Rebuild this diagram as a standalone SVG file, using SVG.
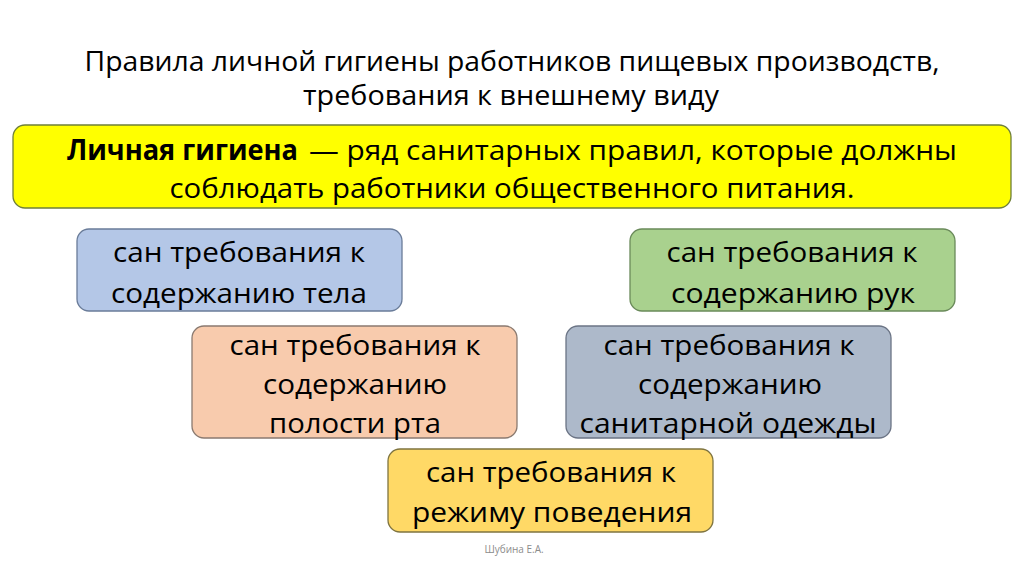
<svg xmlns="http://www.w3.org/2000/svg" width="1024" height="574" viewBox="0 0 1024 574">
<style>
.t{font-family:"Open Sans","Liberation Sans",sans-serif;fill:#000;text-anchor:middle}
.title{font-size:27px}
.box{stroke-width:1.3}
.bt{font-size:27px}
.ft{font-family:"Open Sans","Liberation Sans",sans-serif;font-size:10px;fill:#8c8c8c;text-anchor:middle}
</style>
<rect width="1024" height="574" fill="#fff"/>
<g id="title">
<text class="t title" x="512" y="71" textLength="855" lengthAdjust="spacingAndGlyphs">Правила личной гигиены работников пищевых производств,</text>
<text class="t title" x="511" y="105" textLength="416" lengthAdjust="spacingAndGlyphs">требования к внешнему виду</text>
</g>
<g id="definition">
<rect class="box" x="13" y="125" width="998" height="83" rx="12" fill="#ffff00" stroke="#6f7f3a"/>
<text class="t" style="font-size:28px;text-anchor:start" x="67" y="160"><tspan font-weight="bold" textLength="231" lengthAdjust="spacingAndGlyphs">Личная гигиена</tspan><tspan x="309" textLength="648" lengthAdjust="spacingAndGlyphs">— ряд санитарных правил, которые должны</tspan></text>
<text class="t" style="font-size:28px" x="512" y="198" textLength="685" lengthAdjust="spacingAndGlyphs">соблюдать работники общественного питания.</text>
</g>
<g id="body">
<rect class="box" x="77" y="229" width="325" height="82" rx="12" fill="#b4c7e7" stroke="#6a7c99"/>
<text class="t bt" x="239" y="262" textLength="252" lengthAdjust="spacingAndGlyphs">сан требования к</text>
<text class="t bt" x="239" y="303" textLength="256" lengthAdjust="spacingAndGlyphs">содержанию тела</text>
</g>
<g id="hands">
<rect class="box" x="630" y="229" width="325" height="82" rx="12" fill="#a9d18e" stroke="#6a8a5a"/>
<text class="t bt" x="792" y="262" textLength="251" lengthAdjust="spacingAndGlyphs">сан требования к</text>
<text class="t bt" x="793" y="303" textLength="244" lengthAdjust="spacingAndGlyphs">содержанию рук</text>
</g>
<g id="mouth">
<rect class="box" x="192" y="326" width="325" height="112" rx="12" fill="#f8cbad" stroke="#8a7a70"/>
<text class="t bt" x="355" y="355" textLength="251" lengthAdjust="spacingAndGlyphs">сан требования к</text>
<text class="t bt" x="355" y="394" textLength="184" lengthAdjust="spacingAndGlyphs">содержанию</text>
<text class="t bt" x="355" y="433" textLength="172" lengthAdjust="spacingAndGlyphs">полости рта</text>
</g>
<g id="clothes">
<rect class="box" x="566" y="326" width="325" height="112" rx="12" fill="#adb9ca" stroke="#6b7485"/>
<text class="t bt" x="729" y="355" textLength="251" lengthAdjust="spacingAndGlyphs">сан требования к</text>
<text class="t bt" x="730" y="394" textLength="184" lengthAdjust="spacingAndGlyphs">содержанию</text>
<text class="t bt" x="728" y="433" textLength="297" lengthAdjust="spacingAndGlyphs">санитарной одежды</text>
</g>
<g id="behavior">
<rect class="box" x="388" y="449" width="325" height="83" rx="12" fill="#ffd966" stroke="#7f7440"/>
<text class="t bt" x="551" y="482" textLength="250" lengthAdjust="spacingAndGlyphs">сан требования к</text>
<text class="t bt" x="552" y="522" textLength="280" lengthAdjust="spacingAndGlyphs">режиму поведения</text>
</g>
<g id="connectors"></g>
<text class="ft" x="514" y="553">Шубина Е.А.</text>
</svg>
